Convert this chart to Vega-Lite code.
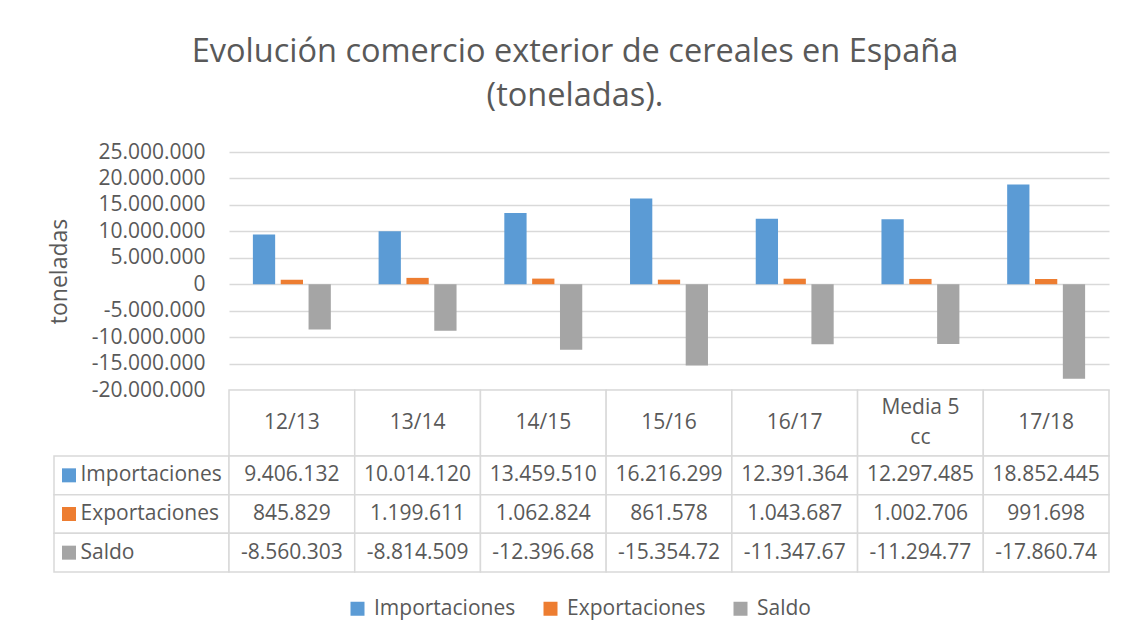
{
  "$schema": "https://vega.github.io/schema/vega-lite/v6.json",
  "background": "white",
  "padding": {"left": 48, "top": 35, "right": 12, "bottom": 10},
  "config": {
    "locale": {"number": {"decimal": ",", "thousands": ".", "grouping": [3], "currency": ["", " €"], "minus": "-"}},
    "font": "Open Sans",
    "view": {"stroke": null},
    "legend": {"labelFont": "Open Sans", "layout": {"bottom": {"anchor": "middle"}}}
  },
  "title": {
    "text": ["Evolución comercio exterior de cereales en España", "(toneladas)."],
    "fontSize": 32.5,
    "lineHeight": 44,
    "fontWeight": "normal",
    "color": "#595959",
    "anchor": "middle",
    "dx": -4,
    "offset": 29
  },
  "datasets": {
    "comercio": [
      {"campana": "12/13", "serie": "Importaciones", "toneladas": 9406132},
      {"campana": "12/13", "serie": "Exportaciones", "toneladas": 845829},
      {"campana": "12/13", "serie": "Saldo", "toneladas": -8560303},
      {"campana": "13/14", "serie": "Importaciones", "toneladas": 10014120},
      {"campana": "13/14", "serie": "Exportaciones", "toneladas": 1199611},
      {"campana": "13/14", "serie": "Saldo", "toneladas": -8814509},
      {"campana": "14/15", "serie": "Importaciones", "toneladas": 13459510},
      {"campana": "14/15", "serie": "Exportaciones", "toneladas": 1062824},
      {"campana": "14/15", "serie": "Saldo", "toneladas": -12396686},
      {"campana": "15/16", "serie": "Importaciones", "toneladas": 16216299},
      {"campana": "15/16", "serie": "Exportaciones", "toneladas": 861578},
      {"campana": "15/16", "serie": "Saldo", "toneladas": -15354721},
      {"campana": "16/17", "serie": "Importaciones", "toneladas": 12391364},
      {"campana": "16/17", "serie": "Exportaciones", "toneladas": 1043687},
      {"campana": "16/17", "serie": "Saldo", "toneladas": -11347677},
      {"campana": "Media 5\ncc", "serie": "Importaciones", "toneladas": 12297485},
      {"campana": "Media 5\ncc", "serie": "Exportaciones", "toneladas": 1002706},
      {"campana": "Media 5\ncc", "serie": "Saldo", "toneladas": -11294779},
      {"campana": "17/18", "serie": "Importaciones", "toneladas": 18852445},
      {"campana": "17/18", "serie": "Exportaciones", "toneladas": 991698},
      {"campana": "17/18", "serie": "Saldo", "toneladas": -17860747}
    ]
  },
  "data": {"name": "comercio"},
  "columns": 2,
  "spacing": 0,
  "bounds": "flush",
  "concat": [
    {
      "width": 175, "height": 238,
      "mark": {"type": "text", "text": ""},
      "encoding": {}
    },
    {
      "width": 880, "height": 238,
      "mark": {"type": "bar"},
      "encoding": {
        "x": {"field": "campana", "type": "nominal", "sort": ["12/13","13/14","14/15","15/16","16/17","Media 5\ncc","17/18"], "axis": null, "scale": {"paddingInner": 0.38, "paddingOuter": 0.19}},
        "xOffset": {"field": "serie", "type": "nominal", "sort": ["Importaciones","Exportaciones","Saldo"], "scale": {"paddingInner": 0.2, "paddingOuter": 0}},
        "y": {
          "field": "toneladas", "type": "quantitative",
          "scale": {"domain": [-20000000, 25000000], "nice": false, "zero": false},
          "axis": {
            "values": [-20000000, -15000000, -10000000, -5000000, 0, 5000000, 10000000, 15000000, 20000000, 25000000],
            "format": ",d",
            "title": "toneladas",
            "grid": true, "gridColor": "#d9d9d9", "gridWidth": 1.5,
            "domain": false, "ticks": false,
            "labelPadding": 24, "labelFontSize": 21, "labelColor": "#595959",
            "titleFontSize": 23, "titleFontWeight": "normal", "titleColor": "#595959", "titlePadding": 20
          }
        },
        "color": {
          "field": "serie", "type": "nominal",
          "scale": {"domain": ["Importaciones","Exportaciones","Saldo"], "range": ["#5b9bd5","#ed7d31","#a5a5a5"]},
          "legend": {
            "orient": "bottom", "direction": "horizontal", "title": null,
            "symbolType": "square", "symbolSize": 196, "symbolStrokeWidth": 0,
            "labelFontSize": 21, "labelColor": "#595959", "labelOffset": 6,
            "columnPadding": 24, "offset": 25
          }
        }
      }
    },
    {
      "width": 175, "height": 66,
      "mark": {"type": "text", "text": ""},
      "encoding": {}
    },
    {
      "width": 880, "height": 66,
      "transform": [{"filter": {"field": "serie", "equal": "Importaciones"}}],
      "encoding": {
        "x": {"field": "campana", "type": "nominal", "sort": ["12/13","13/14","14/15","15/16","16/17","Media 5\ncc","17/18"], "axis": null, "scale": {"paddingInner": 0, "paddingOuter": 0}}
      },
      "layer": [
        {"mark": {"type": "rect", "fill": "white", "stroke": "#d9d9d9", "strokeWidth": 1.5}},
        {"transform": [{"filter": {"not": {"field": "campana", "oneOf": ["Media 5\ncc"]}}}],
         "mark": {"type": "text", "fontSize": 21, "color": "#595959"},
         "encoding": {"text": {"field": "campana"}}},
        {"transform": [{"filter": {"field": "campana", "oneOf": ["Media 5\ncc"]}}],
         "mark": {"type": "text", "fontSize": 21, "color": "#595959", "lineBreak": "\n", "lineHeight": 30, "dy": -15},
         "encoding": {"text": {"field": "campana"}}}
      ]
    },
    {
      "width": 175, "height": 116,
      "transform": [{"filter": {"field": "campana", "equal": "12/13"}}],
      "encoding": {
        "y": {"field": "serie", "type": "nominal", "sort": ["Importaciones","Exportaciones","Saldo"], "axis": null, "scale": {"paddingInner": 0, "paddingOuter": 0}}
      },
      "layer": [
        {"mark": {"type": "rect", "fill": "white", "stroke": "#d9d9d9", "strokeWidth": 1.5}},
        {"mark": {"type": "point", "shape": "square", "filled": true, "size": 196, "opacity": 1, "xOffset": -72.5},
         "encoding": {"color": {"field": "serie", "type": "nominal", "scale": {"domain": ["Importaciones","Exportaciones","Saldo"], "range": ["#5b9bd5","#ed7d31","#a5a5a5"]}}}},
        {"mark": {"type": "text", "fontSize": 21, "color": "#595959", "align": "left", "xOffset": -61},
         "encoding": {"text": {"field": "serie"}}}
      ]
    },
    {
      "width": 880, "height": 116,
      "encoding": {
        "x": {"field": "campana", "type": "nominal", "sort": ["12/13","13/14","14/15","15/16","16/17","Media 5\ncc","17/18"], "axis": null, "scale": {"paddingInner": 0, "paddingOuter": 0}},
        "y": {"field": "serie", "type": "nominal", "sort": ["Importaciones","Exportaciones","Saldo"], "axis": null, "scale": {"paddingInner": 0, "paddingOuter": 0}}
      },
      "layer": [
        {"mark": {"type": "rect", "fill": "white", "stroke": "#d9d9d9", "strokeWidth": 1.5}},
        {"mark": {"type": "text", "fontSize": 21, "color": "#595959", "limit": 110, "ellipsis": "\u200b"},
         "encoding": {"text": {"field": "toneladas", "type": "quantitative", "format": ",d"}}}
      ]
    }
  ]
}
